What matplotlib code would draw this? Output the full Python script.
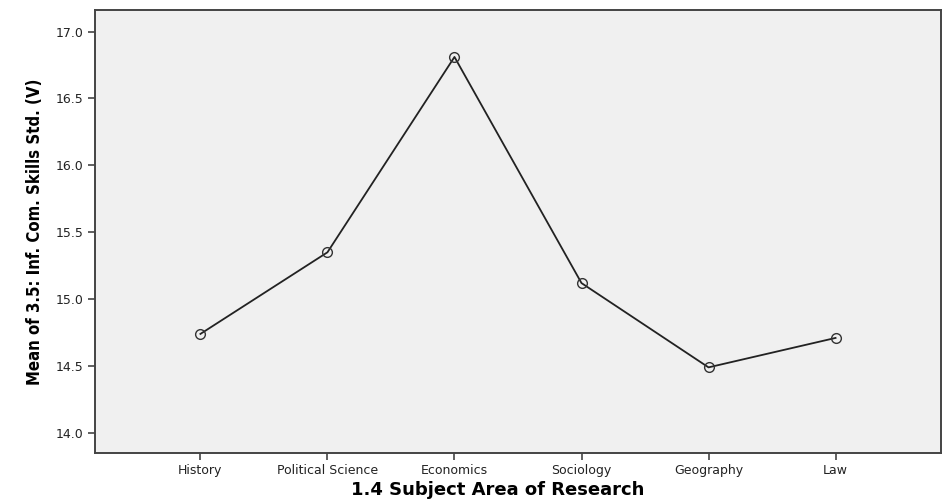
import matplotlib.pyplot as plt

subjects = ['History', 'Political Science', 'Economics', 'Sociology', 'Geography', 'Law']
means = [14.74, 15.35, 16.81, 15.12, 14.49, 14.71]
yticks = [14.0, 14.5, 15.0, 15.5, 16.0, 16.5, 17.0]

plt.rcParams['font.family'] = ['DejaVu Sans']

fig = plt.figure(figsize=(9.48, 5.01), dpi=100)
ax = fig.add_axes([0.1002, 0.0958, 0.8924, 0.884])
ax.set_facecolor('#f0f0f0')

x = list(range(len(subjects)))
ax.plot(x, means, color='#222222', lw=1.3, marker='o', markersize=7,
        markerfacecolor='none', markeredgecolor='#333333', markeredgewidth=1.0)

ax.set_xlim(-0.83, 5.83)
ax.set_ylim(13.85, 17.16)
ax.set_xticks(x)
ax.set_xticklabels(subjects, fontsize=9, color='#222222')
ax.set_yticks(yticks)
ax.set_yticklabels(['%.1f' % v for v in yticks], fontsize=9, color='#222222')
ax.tick_params(axis='x', length=5, width=1.2, color='#444444', pad=3)
ax.tick_params(axis='y', length=5, width=1.2, color='#444444')

for s in ['top', 'right', 'bottom', 'left']:
    ax.spines[s].set_color('#444444')
    ax.spines[s].set_linewidth(1.4)

ax.set_xlabel('1.4 Subject Area of Research', fontsize=13, fontweight='bold', labelpad=3)
ax.xaxis.label.set_x(0.476)
ax.set_ylabel('Mean of 3.5: Inf. Com. Skills Std. (V)', fontsize=12, fontweight='bold',
              fontstretch='condensed', labelpad=8)

fig.savefig('out.png', dpi=100)
